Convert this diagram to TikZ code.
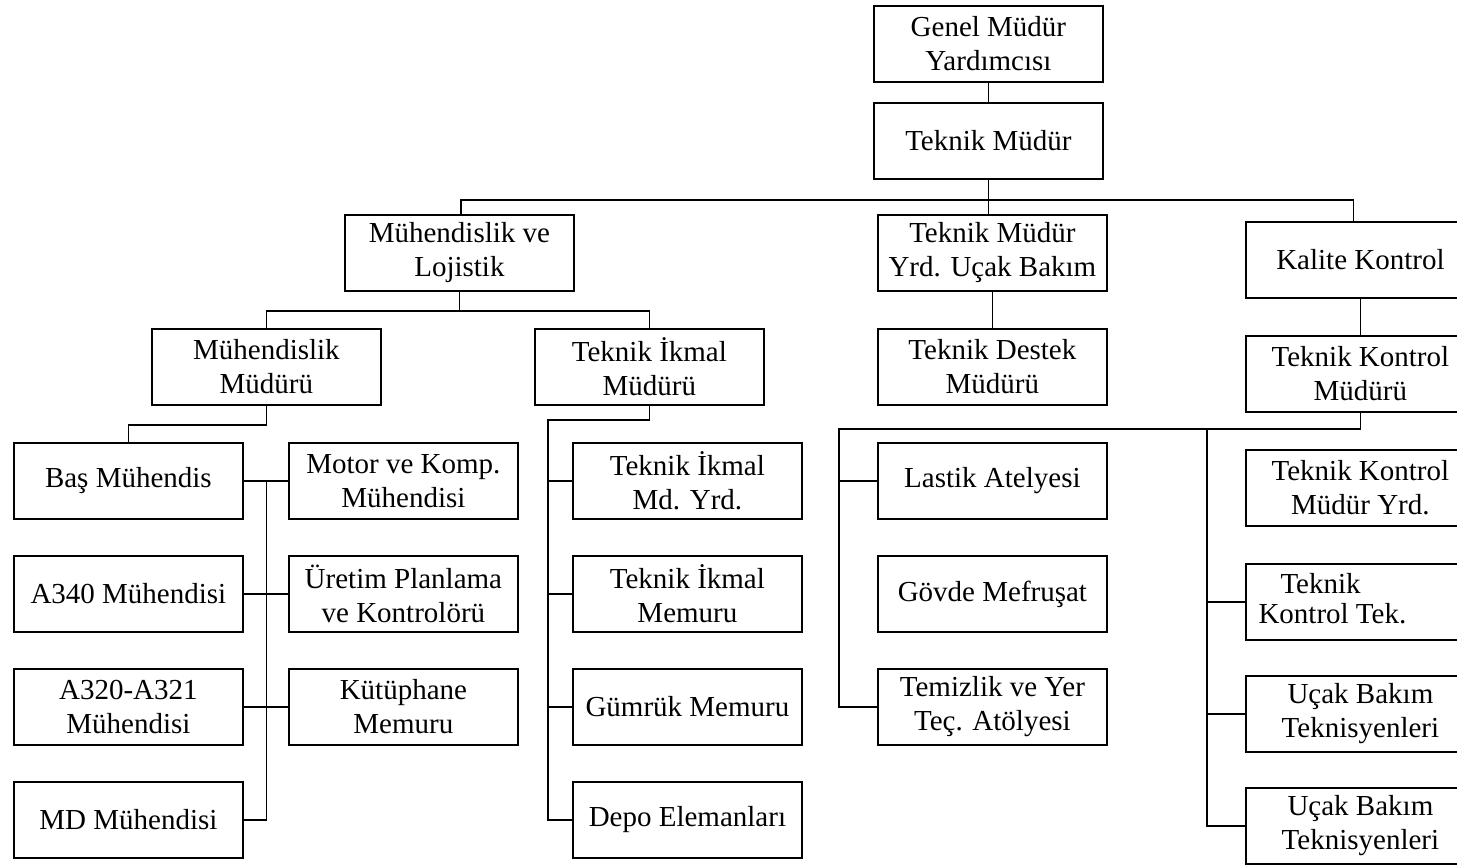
\documentclass[tikz,border=0pt]{standalone}
\usepackage{fontspec}
\setmainfont{Liberation Serif}
\begin{document}
\begin{tikzpicture}[x=1pt,y=-1pt,
  box/.style={draw=black, line width=1.8pt, minimum width=229pt, minimum height=76pt,
    inner sep=0pt, anchor=north west, align=center,
    font=\fontsize{29}{34}\selectfont},
  conn/.style={draw=black, line width=1.8pt}]
\useasboundingbox (0,0) rectangle (1457,865);
\fill[white] (0,0) rectangle (1457,865);
\clip (0,0) rectangle (1457,865);
% top levels
\node[box] (gmy) at (873,5) {Genel Müdür\\Yardımcısı};
\node[box] (tm) at (873,102) {Teknik Müdür};
\node[box] (ml) at (344,214) {Mühendislik ve\\Lojistik};
\node[box] (tmy) at (877,214) {Teknik Müdür\\Yrd. Uçak Bakım};
\node[box] (kk) at (1245,221) {Kalite Kontrol};
% second level
\node[box] (mm) at (151,328) {Mühendislik\\Müdürü};
\node[box] (tim) at (534,328) {Teknik İkmal\\Müdürü};
\node[box] (tdm) at (877,328) {Teknik Destek\\Müdürü};
\node[box] (tkm) at (1245,335) {Teknik Kontrol\\Müdürü};
% column 1
\node[box] (bas) at (13,442) {Baş Mühendis};
\node[box] (a340) at (13,555) {A340 Mühendisi};
\node[box] (a320) at (13,668) {A320-A321\\Mühendisi};
\node[box] (md) at (13,781) {MD Mühendisi};
% column 2
\node[box] (motor) at (288,442) {Motor ve Komp.\\Mühendisi};
\node[box] (uretim) at (288,555) {Üretim Planlama\\ve Kontrolörü};
\node[box] (kut) at (288,668) {Kütüphane\\Memuru};
% column 3
\node[box] (tiyrd) at (572,442) {Teknik İkmal\\Md. Yrd.};
\node[box] (timem) at (572,555) {Teknik İkmal\\Memuru};
\node[box] (gum) at (572,668) {Gümrük Memuru};
\node[box] (depo) at (572,781) {Depo Elemanları};
% column 4
\node[box] (lastik) at (877,442) {Lastik Atelyesi};
\node[box] (govde) at (877,555) {Gövde Mefruşat};
\node[box] (tem) at (877,668) {Temizlik ve Yer\\Teç. Atölyesi};
% column 5
\node[box] (tkyrd) at (1245,449) {Teknik Kontrol\\Müdür Yrd.};
\node[box] (tkt) at (1245,563) {\hspace*{-56pt}\begin{tabular}{@{}l@{}}\hspace*{22pt}Teknik\\[-4pt]Kontrol Tek.\end{tabular}};
\node[box] (uc1) at (1245,675) {Uçak Bakım\\Teknisyenleri};
\node[box] (uc2) at (1245,787) {Uçak Bakım\\Teknisyenleri};
% connectors top
\draw[conn] (gmy.south) -- (tm.north);
\draw[conn] (tm.south) -- ++(0,20) coordinate (top);
\draw[conn] (top) -- (top |- tmy.north);
\draw[conn] ([xshift=1.5pt]ml.north) |- (top) -| ([xshift=-7pt]kk.north);
\draw[conn] (kk.south) -- (tkm.north);
\draw[conn] (tmy.south) -- (tdm.north);
% engineering & logistics
\draw[conn] (ml.south) -- ++(0,19) coordinate (jml);
\draw[conn] (mm.north) |- (jml) -| (tim.north);
\draw[conn] (mm.south) -- ++(0,19) -| (bas.north);
\draw[conn] (bas.east) -- (motor.west);
\draw[conn] (a340.east) -- (uretim.west);
\draw[conn] (a320.east) -- (kut.west);
\draw[conn] (bas.east -| mm.south) |- (md.east);
% technical supply
\draw[conn] (tim.south) -- ++(0,14) -| ([xshift=-24pt]depo.west) -- (depo.west);
\draw[conn] (tiyrd.west) -- ++(-24,0);
\draw[conn] (timem.west) -- ++(-24,0);
\draw[conn] (gum.west) -- ++(-24,0);
% quality / maintenance
\draw[conn] (tkm.south) -- ++(0,16) coordinate (jr) -| ([xshift=-38pt]tem.west) -- (tem.west);
\draw[conn] (lastik.west) -- ++(-38,0);
\draw[conn] ([xshift=-38pt]tkt.west |- jr) |- (uc2.west);
\draw[conn] (tkt.west) -- ++(-38,0);
\draw[conn] (uc1.west) -- ++(-38,0);
\end{tikzpicture}
\end{document}
